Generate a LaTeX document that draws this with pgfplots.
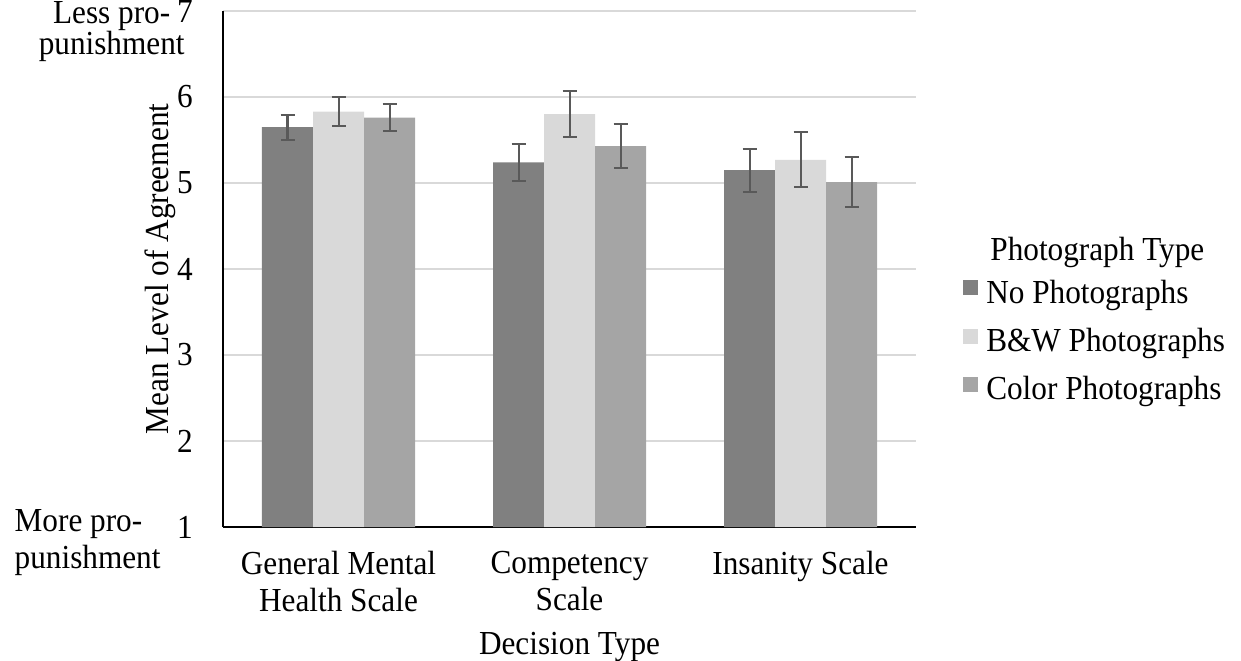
\documentclass[border=0pt]{standalone}
\usepackage{pgfplots}
\pgfplotsset{compat=1.18}
\usepackage{fontspec}
\setmainfont[FakeStretch=0.93]{Liberation Serif}
\definecolor{cDark}{HTML}{808080}
\definecolor{cLight}{HTML}{D9D9D9}
\definecolor{cMid}{HTML}{A5A5A5}
\definecolor{cErr}{HTML}{595959}
\definecolor{cGrid}{HTML}{D9D9D9}
\newcommand{\ff}{\fontsize{25.2}{27.75}\selectfont}
\begin{document}
\begin{tikzpicture}
\begin{axis}[
  name=ax, at={(0,0)}, anchor=south west,
  scale only axis, width=519.75pt, height=387pt,
  ybar=0pt, bar width=38.25pt,
  xmin=-0.5, xmax=2.5, ymin=1, ymax=7,
  xtick={0,1,2}, ytick={1,2,3,4,5,6,7},
  xticklabels={{General Mental\\Health Scale},{Competency\\Scale},{Insanity Scale}},
  axis x line*=bottom, axis y line*=left,
  axis line style={black, line width=1.5pt},
  major tick length=0pt,
  ymajorgrids, grid style={cGrid, line width=1.1pt},
  /pgf/number format/assume math mode=true,
  tick label style={font=\ff},
  yticklabel style={anchor=east, inner sep=0pt, xshift=-22.5pt},
  xticklabel style={align=center, anchor=north, inner sep=0pt, yshift=-18pt},
  xlabel={Decision Type},
  xlabel style={font=\ff, at={(axis description cs:0.5,-0.248)}, anchor=base},
  ylabel={Mean Level of Agreement},
  ylabel style={font=\ff, at={(axis description cs:-0.078,0.5)}, anchor=base, rotate=0},
  legend style={at={(axis description cs:1.0678,0.4787)}, anchor=north west,
    draw=none, fill=none, inner sep=0pt, font=\ff, row sep=14pt,
    nodes={inner sep=0pt, text height=17pt, text depth=5pt}},
  legend cell align=left,
  error bars/y dir=both, error bars/y explicit,
  error bars/error bar style={cErr, line width=1.5pt},
  error bars/error mark options={rotate=90, mark size=5.25pt, line width=1.5pt, cErr},
  clip=true,
]
\addplot[fill=cDark, draw=none,
  legend image code/.code={\fill[cDark] (0pt,0pt) rectangle (11.25pt,11.25pt); \path (17.25pt,0pt);}]
  coordinates {(0,5.65) +- (0,0.145) (1,5.24) +- (0,0.215) (2,5.15) +- (0,0.25)};
\addlegendentry{No Photographs}
\addplot[fill=cLight, draw=none,
  legend image code/.code={\fill[cLight] (0pt,0pt) rectangle (11.25pt,11.25pt); \path (17.25pt,0pt);}]
  coordinates {(0,5.83) +- (0,0.17) (1,5.80) +- (0,0.27) (2,5.27) +- (0,0.32)};
\addlegendentry{B\&W Photographs}
\addplot[fill=cMid, draw=none,
  legend image code/.code={\fill[cMid] (0pt,0pt) rectangle (11.25pt,11.25pt); \path (17.25pt,0pt);}]
  coordinates {(0,5.76) +- (0,0.16) (1,5.43) +- (0,0.255) (2,5.01) +- (0,0.29)};
\addlegendentry{Color Photographs}
\end{axis}
\node[font=\ff, anchor=base west] at (572pt,199.5pt) {Photograph Type};
\node[font=\fontsize{25.2}{22.5}\selectfont, align=center, anchor=base] at (-83.5pt,354pt) {Less pro-\\punishment};
\node[font=\ff, align=left, anchor=base west] at (-159.75pt,-31pt) {More pro-\\punishment};
\pgfresetboundingbox
\path[use as bounding box] (-167.25pt,-99.75pt) rectangle (763.5pt,395.25pt);
\end{tikzpicture}
\end{document}
